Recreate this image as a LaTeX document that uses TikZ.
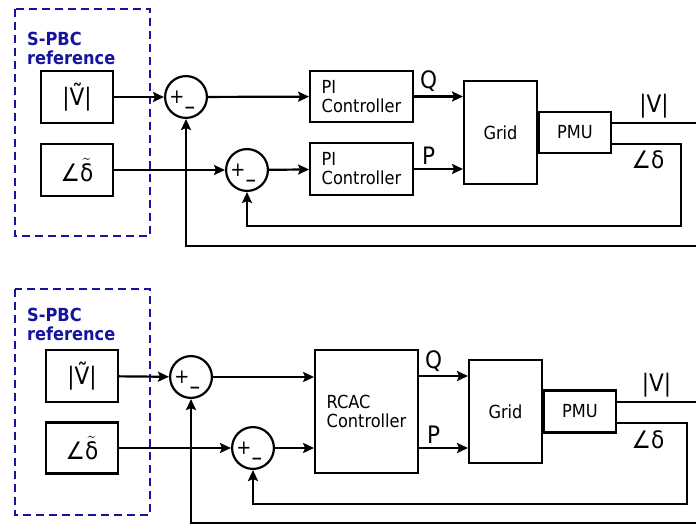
\documentclass[tikz,border=0pt]{standalone}
\usepackage{fontspec}
\setmainfont{DejaVu Sans Condensed}
\usetikzlibrary{arrows.meta, calc}
\definecolor{refblue}{RGB}{20, 20, 160}

\tikzset{
  blk/.style={draw, line width=2.2bp, inner sep=0pt},
  sumc/.style={draw, circle, line width=2.2bp, minimum size=42, inner sep=0pt},
  plus/.style={font=\fontsize{20bp}{22bp}\selectfont, inner sep=0pt},
  minus/.style={font=\fontsize{19bp}{21bp}\selectfont\bfseries, inner sep=0pt},
  arr/.style={-{Stealth[length=11bp, width=10bp, inset=2bp]}, line width=2.2bp},
  wire/.style={line width=2.2bp},
  refbox/.style={draw=refblue, line width=2bp, dash pattern=on 8bp off 5bp},
  reftxt/.style={text=refblue, font=\fontsize{18bp}{18.5bp}\selectfont\bfseries, align=left, anchor=north west, inner sep=0pt},
  sig/.style={font=\fontsize{24bp}{28bp}\selectfont}
}

\begin{document}
\begin{tikzpicture}[x=1bp, y=-1bp, font=\fontsize{18bp}{19bp}\selectfont]
\useasboundingbox (0,0) rectangle (696,525);

% upper loop: two PI controllers
\draw[refbox] (15,9) rectangle (150,236);
\node[reftxt] (sref1) at (27,32) {S-PBC\\reference};

\node[blk, minimum width=72, minimum height=52, sig] (vref1) at (77,97) {|Ṽ|};
\node[blk, minimum width=72, minimum height=52, sig] (dref1) at (77,170) {∠$\tilde{\hbox{δ}}$};

\node[sumc] (s1) at (186,97) {};
\node[sumc] (s2) at (247,170) {};
\node[plus] (s1p) at ($(s1)+(-9,0)$) {+};
\node[minus] (s1m) at ($(s1)+(4,10)$) {\_};
\node[plus] (s2p) at ($(s2)+(-9,0)$) {+};
\node[minus] (s2m) at ($(s2)+(4,10)$) {\_};

\node[blk, minimum width=103, minimum height=51, align=left] (pi1) at (361.5,96.5) {PI\\Controller};
\node[blk, minimum width=103, minimum height=52, align=left] (pi2) at (361.5,169) {PI\\Controller};

\node[blk, minimum width=73, minimum height=103] (grid1) at (500.5,132.5) {Grid};
\node[blk, minimum width=72, minimum height=41, anchor=west] (pmu1) at (grid1.east) {PMU};

\coordinate (vout1) at (696,123);
\coordinate (dcor1) at (681,144);
\coordinate (dbot1) at (681,226);
\coordinate (fb1) at (696,246);

\draw[arr] (vref1) -- (s1);
\draw[arr] (s1) -- (pi1);
\draw[arr] (dref1) -- (s2);
\draw[arr] (s2) -- (pi2);
\draw[arr] (pi1) -- node[pos=0.3, above, sig]{Q} (grid1.west |- pi1);
\draw[arr] (pi2) -- node[pos=0.3, above, sig]{P} (grid1.west |- pi2);
\draw[wire] (pmu1.east |- vout1) -- node[pos=0.5, above, sig]{|V|} (vout1);
\draw[arr] (pmu1.east |- dcor1) -- (dcor1) -- (dbot1) -| (s2.south);
\node[sig] (dlab1) at (648,160) {∠δ};
\draw[arr] (fb1) -| (s1.south);

% lower loop: RCAC controller
\draw[refbox] (15,289) rectangle (150,515);
\node[reftxt] (sref2) at (27,308) {S-PBC\\reference};

\node[blk, minimum width=72, minimum height=52, sig] (vref2) at (82,376) {|Ṽ|};
\node[blk, minimum width=72, minimum height=51, sig] (dref2) at (82,448) {∠$\tilde{\hbox{δ}}$};

\node[sumc] (s3) at (191,377) {};
\node[sumc] (s4) at (253,448) {};
\node[plus] (s3p) at ($(s3)+(-9,0)$) {+};
\node[minus] (s3m) at ($(s3)+(4,10)$) {\_};
\node[plus] (s4p) at ($(s4)+(-9,0)$) {+};
\node[minus] (s4m) at ($(s4)+(4,10)$) {\_};

\node[blk, minimum width=103, minimum height=123, align=left] (rcac) at (366.5,411.5) {RCAC\\Controller};

\node[blk, minimum width=73, minimum height=103] (grid2) at (505.5,411.5) {Grid};
\node[blk, minimum width=72, minimum height=42, anchor=west] (pmu2) at (grid2.east) {PMU};

\coordinate (vout2) at (696,402);
\coordinate (dcor2) at (687,423);
\coordinate (dbot2) at (687,504);
\coordinate (fb2) at (696,523);
\coordinate (qin) at (rcac.east |- 0,376);
\coordinate (pin) at (rcac.east |- 0,448);

\draw[arr] (vref2) -- (s3);
\draw[arr] (s3) -- (rcac.west |- s3);
\draw[arr] (dref2) -- (s4);
\draw[arr] (s4) -- (rcac.west |- s4);
\draw[arr] (qin) -- node[pos=0.3, above, sig]{Q} (grid2.west |- qin);
\draw[arr] (pin) -- node[pos=0.3, above, sig]{P} (grid2.west |- pin);
\draw[wire] (pmu2.east |- vout2) -- node[pos=0.5, above, sig]{|V|} (vout2);
\draw[arr] (pmu2.east |- dcor2) -- (dcor2) -- (dbot2) -| (s4.south);
\node[sig] (dlab2) at (648,440) {∠δ};
\draw[arr] (fb2) -| (s3.south);
\end{tikzpicture}
\end{document}
